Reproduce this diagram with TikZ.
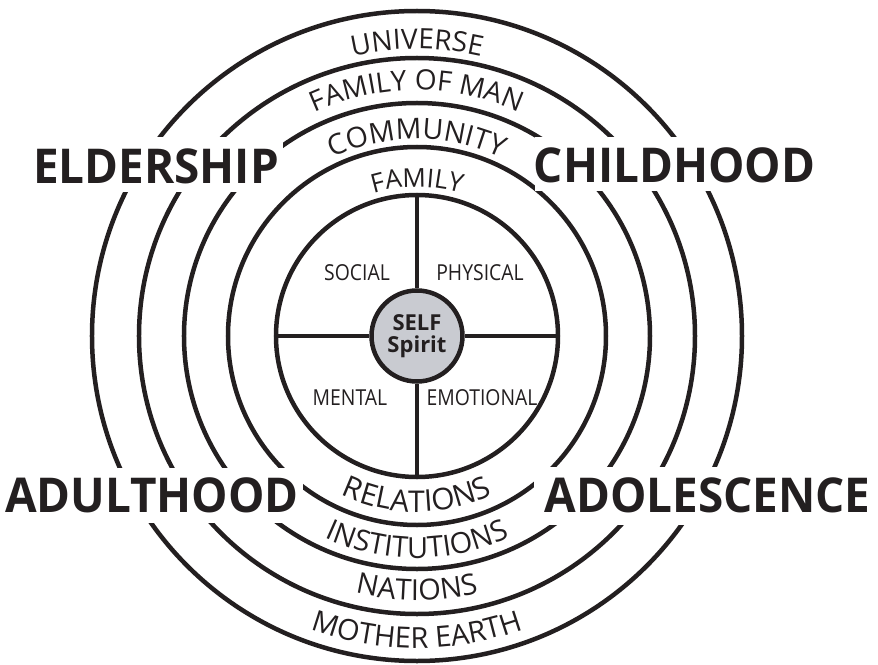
\documentclass[tikz,border=0pt]{standalone}
\usepackage{fontspec}
\setmainfont{Open Sans}
\newfontfamily\labfont[FakeStretch=0.88]{Open Sans}
\newfontfamily\agefont[FakeStretch=0.955]{Open Sans}
\usetikzlibrary{decorations.text}
\definecolor{ink}{HTML}{231F20}
\definecolor{selfgray}{HTML}{C9CBD1}
\newcommand\ringfont[1]{\fontsize{#1}{#1}\selectfont}
\newcommand\ringtop[3]{\path[decorate,decoration={text along path,text align=center,text color=ink,text={|\ringfont{#2}|#3}}] (170:#1) arc[start angle=170,end angle=10,radius=#1];}
\newcommand\ringbot[3]{\path[decorate,decoration={text along path,text align=center,text color=ink,text={|\ringfont{#2}|#3}}] (190:#1) arc[start angle=190,end angle=350,radius=#1];}
\begin{document}
\begin{tikzpicture}[x=1pt,y=1pt,
  ring/.style={draw=ink,line width=4.5pt},
  spoke/.style={draw=ink,line width=4.5pt},
  mask/.style={fill=white,draw=none},
  agelabel/.style={text=ink,font=\agefont\bfseries\fontsize{48}{48}\selectfont,inner sep=0pt},
  quad/.style={text=ink,font=\labfont\fontsize{22}{22}\selectfont,inner sep=0pt}]
\useasboundingbox (-417,-328) rectangle (461,336);
% rings
\foreach \r in {189,233,278,325} {\draw[ring] (0,0) circle[radius=\r];}
% masks behind the age labels
\fill[mask] (-410,199) rectangle (-134,144);
\fill[mask] (118,199) rectangle (455,145);
\fill[mask] (-417,-132) rectangle (-114,-187);
\fill[mask] (117,-131) rectangle (461,-189);
\node[agelabel] (elder) at (-261,170) {ELDERSHIP};
\node[agelabel] (child) at (257.5,170.5) {CHILDHOOD};
\node[agelabel] (adult) at (-265,-159.5) {ADULTHOOD};
\node[agelabel] (adol) at (290.5,-159.5) {ADOLESCENCE};
% inner circle and self
\node[circle,draw=ink,line width=4.5pt,minimum size=282pt,inner sep=0pt] (inner) at (0,0) {};
\node[circle,draw=ink,fill=selfgray,line width=4.5pt,minimum size=91pt,inner sep=0pt,
      align=center,text=ink,font=\bfseries\fontsize{22}{24}\selectfont] (self) at (0,0) {SELF\\[-2pt]Spirit};
\draw[spoke] (self.north) -- (inner.north);
\draw[spoke] (self.south) -- (inner.south);
\draw[spoke] (self.west) -- (inner.west);
\draw[spoke] (self.east) -- (inner.east);
\node[quad] (social) at (-60,63) {SOCIAL};
\node[quad] (physical) at (63,63) {PHYSICAL};
\node[quad] (mental) at (-67,-62) {MENTAL};
\node[quad] (emotional) at (65,-62) {EMOTIONAL};
% ring labels
\ringtop{287}{28}{UNIVERSE}
\ringtop{246}{28}{FAMILY OF MAN}
\ringtop{197}{28.5}{COMMUNITY}
\ringtop{149}{26}{FAMILY}
\ringbot{176}{30}{RELATIONS}
\ringbot{222}{29}{INSTITUTIONS}
\ringbot{264}{29}{NATIONS}
\ringbot{312}{29}{MOTHER EARTH}
\end{tikzpicture}
\end{document}
